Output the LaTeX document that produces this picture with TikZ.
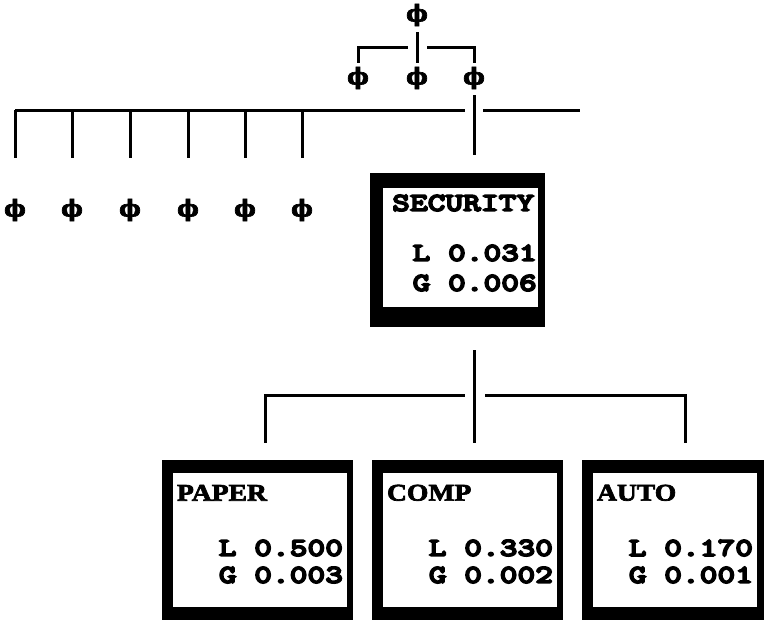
\documentclass[tikz,border=0pt]{standalone}
\usepackage{fontspec}
\usetikzlibrary{positioning,calc}
\newfontfamily\courb{lmmonolt10-bold.otf}[FakeStretch=1.3,FakeBold=6]
\newfontfamily\timesb{Liberation Serif}[FakeStretch=1.15,FakeBold=3]
\newfontfamily\grkb{DejaVu Serif}[FakeBold=3]

\tikzset{
  link/.style={line width=3pt},
  phinode/.style={inner sep=0pt,font=\fontsize{23}{23}\selectfont\grkb\bfseries},
  frame/.style={rectangle,fill=black,inner sep=0pt},
  pane/.style={rectangle,fill=white,inner sep=0pt},
  title/.style={anchor=west,inner sep=0pt,font=\fontsize{26}{26}\selectfont\courb},
  label/.style={anchor=west,inner sep=0pt,font=\fontsize{24}{24}\selectfont\timesb\bfseries},
  value/.style={anchor=east,inner sep=0pt,font=\fontsize{26}{26}\selectfont\courb},
}

\begin{document}
\begin{tikzpicture}[x=1pt,y=-1pt]
\useasboundingbox (0,0) rectangle (764,622);
% top of the tree
\node[phinode] (t0) at (417,15) {ϕ};
\node[phinode] (t1) at (358,78) {ϕ};
\node[phinode] (t2) at (417,78) {ϕ};
\node[phinode] (t3) at (474,78) {ϕ};
\coordinate (tl) at (408,47);
\coordinate (tr) at (427,47);
\draw[link] ([yshift=-6pt]t0.south) -- ([yshift=4pt]t2.north);
\draw[link] ([yshift=4pt]t1.north) |- (tl);
\draw[link] ([yshift=4pt]t3.north) |- (tr);
% second row of phis
\coordinate (ml) at (15,110);
\coordinate (mg) at (465,110);
\coordinate (mh) at (483,110);
\coordinate (mr) at (580,110);
\draw[link] (ml) -- (mg);
\draw[link] (mh) -- (mr);
\foreach \i/\x in {1/15,2/72,3/130,4/188,5/245,6/302}{
  \node[phinode] (p\i) at (\x,210) {ϕ};
  \draw[link] (p\i |- ml) -- ([yshift=41pt]p\i.north);
}
% security box
\node[frame,minimum width=175pt,minimum height=154pt] (sec) at (457.5,250) {};
\node[pane,minimum width=155pt,minimum height=119pt] (secin) at (460.5,247.5) {};
\node[title] (sect) at (392,203) {SECURITY};
\node[value] (secl) at (537,253) {L 0.031};
\node[value] (secg) at (537,283) {G 0.006};
\coordinate (sa) at (474,95);
\coordinate (sb) at (474,155);
\draw[link] (sa) -- (sb);
% bottom boxes
\foreach \nm/\ox/\ow/\ix/\iw/\lab/\lv/\gv in {
  pap/257.5/191/260/174/PAPER/0.500/0.003,
  cmp/467.5/191/470/174/COMP/0.330/0.002,
  aut/673/182/675/164/AUTO/0.170/0.001}{
  \node[frame,minimum width=\ow pt,minimum height=160pt] (\nm) at (\ox,540) {};
  \node[pane,minimum width=\iw pt,minimum height=134pt] (\nm in) at (\ix,540) {};
  \node[label] (\nm t) at ([xshift=4pt,yshift=-20pt]\nm in.north west) {\lab};
  \node[value] (\nm l) at ([xshift=-4pt,yshift=-8pt]\nm in.east) {L \lv};
  \node[value] (\nm g) at ([xshift=-4pt,yshift=-35pt]\nm in.east) {G \gv};
}
\coordinate (ba) at (474,350);
\coordinate (bb) at (474,443);
\coordinate (bl) at (265,395);
\coordinate (bg) at (465,395);
\coordinate (bh) at (485,395);
\coordinate (br) at (685,395);
\draw[link] (ba) -- (bb);
\draw[link] (bl |- pap.north) ++(0,-17) -- (bl) -- (bg);
\draw[link] (br |- aut.north) ++(0,-17) -- (br) -- (bh);
\end{tikzpicture}
\end{document}
